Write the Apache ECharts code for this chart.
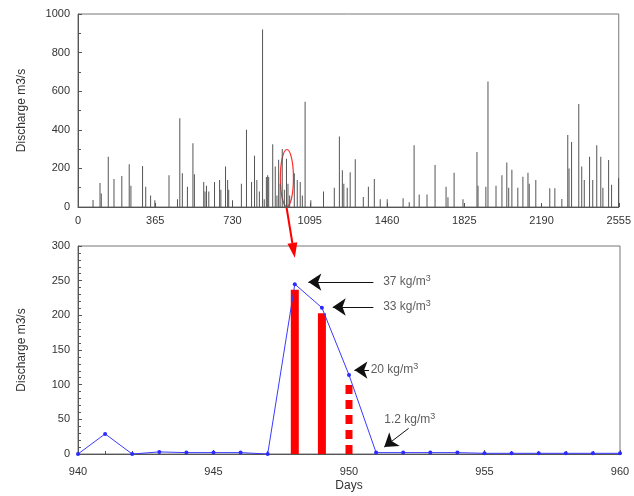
<!DOCTYPE html>
<html>
<head>
<meta charset="utf-8">
<script src="https://cdn.jsdelivr.net/npm/echarts@6/dist/echarts.min.js"></script>
<style>
  html, body { margin: 0; padding: 0; background: #fff; }
  #main { width: 634px; height: 496px; }
</style>
</head>
<body>
<div id="main"></div>
<script>
// top panel: daily discharge spikes (day, m3/s)
const topDays = [71, 104, 110, 143, 170, 207, 242, 250, 305, 320, 343, 363, 430, 470, 481, 493, 517, 543, 550,
  594, 600, 607, 618, 645, 669, 675, 697, 707, 712, 730, 772, 796, 820, 834, 845, 857, 872, 880, 890, 896, 901,
  920, 932, 940, 948, 955, 965, 975, 985, 992, 1000, 1022, 1036, 1050, 1060, 1073, 1100, 1160, 1211, 1235, 1249,
  1256, 1272, 1286, 1310, 1348, 1372, 1400, 1428, 1461, 1536, 1565, 1588, 1612, 1649, 1687, 1739, 1748, 1777,
  1819, 1885, 1890, 1927, 1937, 1975, 2003, 2026, 2035, 2050, 2078, 2102, 2126, 2132, 2163, 2229, 2253, 2286,
  2314, 2320, 2332, 2366, 2380, 2392, 2417, 2432, 2451, 2470, 2480, 2507, 2521, 2554];
const topQ = [36, 125, 70, 260, 145, 160, 222, 110, 212, 105, 60, 35, 165, 40, 460, 175, 105, 330, 170,
  130, 80, 110, 80, 130, 140, 90, 210, 140, 90, 35, 120, 400, 130, 265, 140, 80, 920, 40, 155, 165, 155,
  325, 210, 60, 245, 120, 300, 90, 250, 120, 60, 175, 140, 130, 60, 545, 35, 80, 100, 365, 190,
  120, 100, 180, 248, 52, 105, 145, 40, 40, 45, 25, 320, 65, 65, 218, 105, 50, 178,
  40, 285, 110, 105, 650, 110, 165, 230, 100, 193, 100, 157, 178, 120, 140, 97, 97, 42,
  373, 200, 337, 534, 210, 140, 260, 140, 320, 260, 100, 243, 115, 150];

// bottom panel: days 940-960
const botDays = [940, 941, 942, 943, 944, 945, 946, 947, 948, 949, 950, 951, 952, 953, 954, 955, 956, 957, 958, 959, 960];
const botQ = [0, 29, 0, 3, 2, 2, 2, 0, 245, 211, 114, 2, 2, 2, 2, 1, 1, 1, 1, 1, 1];

// red sediment bars
const sedDays = [948, 949];
const sedQ = [237, 203];
const dashDay = 950;
const dashQ = 104;

// concentration notes: text, label anchor, arrow from -> to
const noteVal = ['37', '33', '20', '1.2'];
const noteAt = [[951.26, 248], [951.26, 212], [950.8, 121], [951.3, 49]];
const arrowFrom = [[950.9, 248], [950.9, 212], [950.74, 121], [952.2, 37]];
const arrowTo = [[948.5, 248], [949.4, 212], [950.2, 121], [951.3, 10]];

const txt = '#333';
const font = 'Liberation Sans, Arial, sans-serif';
const plain = v => String(v);

const chart = echarts.init(document.getElementById('main'));

const axisCommon = {
  axisLine: { show: true, lineStyle: { color: '#555' } },
  axisTick: { show: true, inside: true, length: 4, lineStyle: { color: '#555' } },
  axisLabel: { color: txt, fontSize: 11, fontFamily: font, formatter: plain },
  splitLine: { show: false }
};

chart.setOption({
  animation: false,
  backgroundColor: '#fff',
  grid: [
    { left: 78, right: 14, top: 14, height: 193, show: true, borderColor: '#777', borderWidth: 1 },
    { left: 78, right: 14, top: 246, bottom: 42, show: true, borderColor: '#777', borderWidth: 1 }
  ],
  xAxis: [
    Object.assign({}, axisCommon, {
      type: 'value', gridIndex: 0, min: 0, max: 2555, interval: 365,
      axisLabel: Object.assign({}, axisCommon.axisLabel, { margin: 8, showMaxLabel: true })
    }),
    Object.assign({}, axisCommon, {
      type: 'value', gridIndex: 1, min: 940, max: 960, interval: 5,
      minorTick: { show: true, splitNumber: 5, length: 3, lineStyle: { color: '#555' } },
      name: 'Days', nameLocation: 'middle', nameGap: 26,
      nameTextStyle: { color: txt, fontSize: 12, fontFamily: font },
      axisLabel: Object.assign({}, axisCommon.axisLabel, { margin: 12 })
    })
  ],
  yAxis: [
    Object.assign({}, axisCommon, {
      type: 'value', gridIndex: 0, min: 0, max: 1000, interval: 200,
      minorTick: { show: true, splitNumber: 2, length: 3, lineStyle: { color: '#555' } },
      name: 'Discharge m3/s', nameLocation: 'middle', nameGap: 50,
      nameTextStyle: { color: txt, fontSize: 12, fontFamily: font }
    }),
    Object.assign({}, axisCommon, {
      type: 'value', gridIndex: 1, min: 0, max: 300, interval: 50,
      minorTick: { show: true, splitNumber: 5, length: 3, lineStyle: { color: '#555' } },
      name: 'Discharge m3/s', nameLocation: 'middle', nameGap: 50,
      nameTextStyle: { color: txt, fontSize: 12, fontFamily: font }
    })
  ],
  series: [
    {
      type: 'bar', xAxisIndex: 0, yAxisIndex: 0, barWidth: 1,
      itemStyle: { color: '#555' },
      data: topDays.map((d, i) => [d, topQ[i]])
    },
    {
      type: 'bar', xAxisIndex: 1, yAxisIndex: 1, barWidth: 8,
      itemStyle: { color: '#ff0000' },
      data: sedDays.map((d, i) => [d, sedQ[i]])
    },
    {
      type: 'line', xAxisIndex: 1, yAxisIndex: 1, symbol: 'none',
      lineStyle: { color: '#ff0000', width: 7, type: [9, 6] },
      data: [[dashDay, 0], [dashDay, dashQ]]
    },
    {
      type: 'line', xAxisIndex: 1, yAxisIndex: 1, symbol: 'circle', symbolSize: 4,
      itemStyle: { color: '#2b2bff' },
      lineStyle: { color: '#3a3aff', width: 1 },
      data: botDays.map((d, i) => [d, botQ[i]])
    },
    {
      type: 'lines', coordinateSystem: 'cartesian2d', xAxisIndex: 1, yAxisIndex: 1,
      symbol: ['none', 'arrow'], symbolSize: [0, 13],
      lineStyle: { color: '#111', width: 1, opacity: 1 },
      data: arrowFrom.map((p, i) => ({ coords: [p, arrowTo[i]] }))
    },
    {
      type: 'scatter', xAxisIndex: 1, yAxisIndex: 1, symbolSize: 0,
      label: {
        show: true, position: 'right', distance: 0,
        formatter: p => '{a|' + noteVal[p.dataIndex] + ' kg/m}{s|3}',
        rich: {
          a: { color: txt, fontSize: 12, fontFamily: font },
          s: { color: txt, fontSize: 9, fontFamily: font, padding: [0, 0, 7, 0] }
        }
      },
      data: noteAt
    }
  ]
});

// red ellipse in the top panel and the arrow down to the zoomed day
const ringDay = 987, ringQ = 150, ringDx = 31, ringDq = 148;
const c = chart.convertToPixel({ gridIndex: 0 }, [ringDay, ringQ]);
const e = chart.convertToPixel({ gridIndex: 0 }, [ringDay + ringDx, ringQ + ringDq]);
const a0 = chart.convertToPixel({ gridIndex: 0 }, [985, 0]);
const a1 = chart.convertToPixel({ gridIndex: 1 }, [948, 283]);
const ang = Math.atan2(a1[1] - a0[1], a1[0] - a0[0]);
const hl = 15, hw = 5;
const bx = a1[0] - hl * Math.cos(ang), by = a1[1] - hl * Math.sin(ang);
chart.setOption({
  graphic: [
    {
      type: 'ellipse', shape: { cx: c[0], cy: c[1], rx: Math.abs(e[0] - c[0]), ry: Math.abs(c[1] - e[1]) },
      style: { fill: 'none', stroke: '#ff3030', lineWidth: 1.2 }
    },
    {
      type: 'line', shape: { x1: a0[0], y1: a0[1], x2: bx, y2: by },
      style: { stroke: '#ff0000', lineWidth: 2 }
    },
    {
      type: 'polygon',
      shape: { points: [[a1[0], a1[1]],
        [bx + hw * Math.sin(ang), by - hw * Math.cos(ang)],
        [bx - hw * Math.sin(ang), by + hw * Math.cos(ang)]] },
      style: { fill: '#ff0000' }
    }
  ]
});
</script>
</body>
</html>
